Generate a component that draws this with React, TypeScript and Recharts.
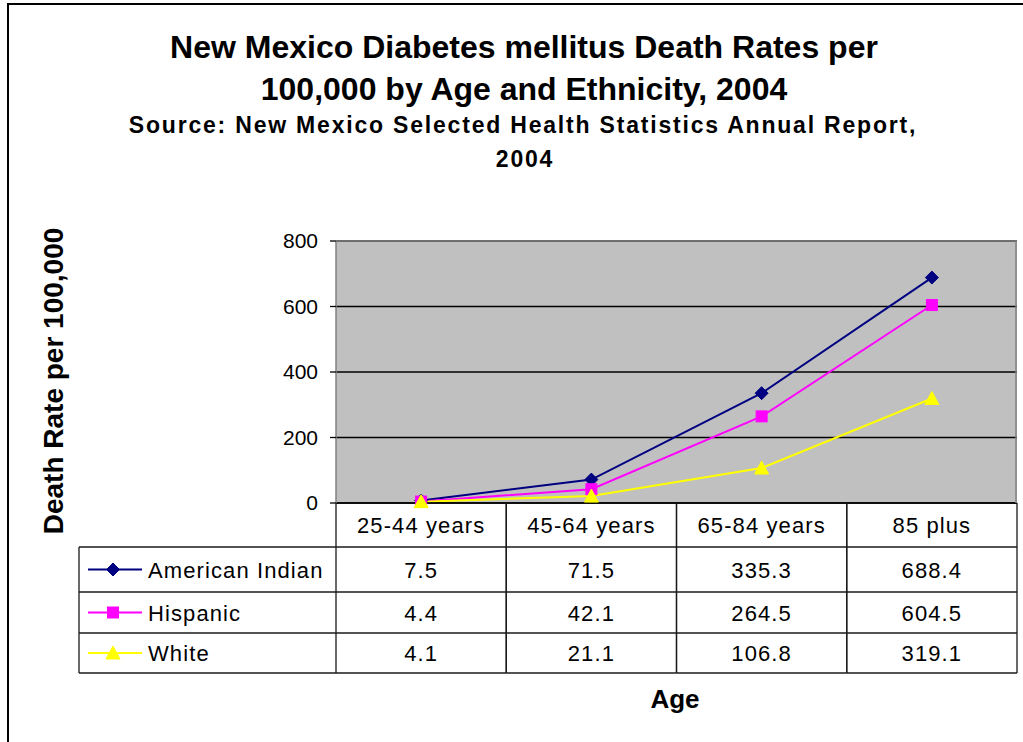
import React from "react";
import {
  LineChart,
  Line,
  XAxis,
  YAxis,
  CartesianGrid,
  ReferenceLine,
} from "recharts";

// Age groups and death rates per 100,000 (New Mexico, 2004)
const ageGroups = ["25-44 years", "45-64 years", "65-84 years", "85 plus"];
const americanIndian = [7.5, 71.5, 335.3, 688.4];
const hispanic = [4.4, 42.1, 264.5, 604.5];
const white = [4.1, 21.1, 106.8, 319.1];
const yTicks = [0, 200, 400, 600, 800];

const seriesInfo = [
  { key: "americanIndian", name: "American Indian", color: "#000080", shape: "diamond", values: americanIndian },
  { key: "hispanic", name: "Hispanic", color: "#FF00FF", shape: "square", values: hispanic },
  { key: "white", name: "White", color: "#FFFF00", shape: "triangle", values: white },
];

const data = ageGroups.map((age, i) => {
  const row: Record<string, string | number> = { age };
  seriesInfo.forEach((s) => {
    row[s.key] = s.values[i];
  });
  return row;
});

// Layout
const CHART_W = 1023;
const CHART_H = 742;
const MARGIN = { top: 241, right: 6, bottom: 69, left: 0 };
const Y_AXIS_W = 336;
const HEADER_H = 44;
const ROW_H = [45, 41, 40];
const TABLE_H = HEADER_H + ROW_H.reduce((a, b) => a + b, 0);
const PLOT_W = CHART_W - MARGIN.left - MARGIN.right - Y_AXIS_W;
const PLOT_H = CHART_H - MARGIN.top - MARGIN.bottom - TABLE_H;
const TABLE_LEFT = 79;
const FONT = "'Liberation Sans', Arial, Helvetica, sans-serif";
const GRID_COLOR = "#000000";
const TABLE_LINE = "#1a1a1a";

function Marker({ shape, cx, cy, color }: { shape: string; cx: number; cy: number; color: string }) {
  if (shape === "diamond") {
    const r = 6.5;
    return <path d={`M${cx},${cy - r}L${cx + r},${cy}L${cx},${cy + r}L${cx - r},${cy}Z`} fill={color} stroke={color} strokeWidth={1} />;
  }
  if (shape === "square") {
    const r = 5.5;
    return <rect x={cx - r} y={cy - r} width={2 * r} height={2 * r} fill={color} stroke={color} strokeWidth={1} />;
  }
  const h = 12;
  const w = 7;
  return <path d={`M${cx},${cy - h / 2 - 1}L${cx + w},${cy + h / 2}L${cx - w},${cy + h / 2}Z`} fill={color} stroke={color} strokeWidth={1} />;
}

function makeDot(shape: string, color: string) {
  return (props: any) => {
    const { cx, cy, index } = props;
    if (cx == null || cy == null) return <g key={`${shape}-${index}`} />;
    return (
      <g key={`${shape}-${index}`}>
        <Marker shape={shape} cx={cx} cy={cy} color={color} />
      </g>
    );
  };
}

const cellText = {
  fontFamily: FONT,
  fontSize: 22,
  letterSpacing: 1.1,
  fill: "#000",
} as const;

// Each x-axis tick draws one column of the data table; the first also draws the legend column.
function TableTick(props: any) {
  const { x, y, payload } = props;
  const i: number = payload.index;
  const colW = PLOT_W / ageGroups.length;
  const left = x - colW / 2;
  const right = x + colW / 2;
  const rowTops: number[] = [];
  let acc = y + HEADER_H;
  ROW_H.forEach((h) => {
    rowTops.push(acc);
    acc += h;
  });
  const bottom = y + TABLE_H;

  return (
    <g>
      <text x={x} y={y + HEADER_H / 2 + 8} textAnchor="middle" {...cellText}>
        {payload.value}
      </text>
      {seriesInfo.map((s, r) => (
        <text key={s.key} x={x} y={rowTops[r] + ROW_H[r] / 2 + 8} textAnchor="middle" {...cellText}>
          {s.values[i]}
        </text>
      ))}
      {rowTops.map((t, r) => (
        <line key={`h${r}`} x1={left} x2={right} y1={t} y2={t} stroke={TABLE_LINE} strokeWidth={1.3} />
      ))}
      <line x1={left} x2={right} y1={bottom} y2={bottom} stroke={TABLE_LINE} strokeWidth={1.3} />
      <line x1={left} x2={left} y1={y} y2={bottom} stroke={TABLE_LINE} strokeWidth={1.3} />
      <line x1={right} x2={right} y1={y} y2={bottom} stroke={TABLE_LINE} strokeWidth={1.3} />
      {i === ageGroups.length - 1 && (
        <line x1={right - 1} x2={right - 1} y1={y - PLOT_H} y2={y} stroke="#808080" strokeWidth={1.5} />
      )}
      {i === 0 && (
        <g>
          <line x1={TABLE_LEFT} x2={TABLE_LEFT} y1={rowTops[0]} y2={bottom} stroke={TABLE_LINE} strokeWidth={1.3} />
          {rowTops.map((t, r) => (
            <line key={`lh${r}`} x1={TABLE_LEFT} x2={left} y1={t} y2={t} stroke={TABLE_LINE} strokeWidth={1.3} />
          ))}
          <line x1={TABLE_LEFT} x2={left} y1={bottom} y2={bottom} stroke={TABLE_LINE} strokeWidth={1.3} />
          {seriesInfo.map((s, r) => {
            const cy = rowTops[r] + ROW_H[r] / 2;
            return (
              <g key={`lg${s.key}`}>
                <line x1={TABLE_LEFT + 9} x2={TABLE_LEFT + 63} y1={cy} y2={cy} stroke={s.color} strokeWidth={2} />
                <Marker shape={s.shape} cx={TABLE_LEFT + 34} cy={cy} color={s.color} />
                <text x={TABLE_LEFT + 69} y={cy + 8} textAnchor="start" {...cellText}>
                  {s.name}
                </text>
              </g>
            );
          })}
        </g>
      )}
    </g>
  );
}

export default function App() {
  return (
    <div style={{ position: "absolute", left: 0, top: 0, width: CHART_W, height: CHART_H, background: "#fff", overflow: "hidden" }}>
      {/* chart frame: only the top and left edges fall inside the view */}
      <div
        style={{
          position: "absolute",
          left: 7,
          top: 3,
          width: CHART_W + 20,
          height: CHART_H + 20,
          borderTop: "2px solid #000",
          borderLeft: "2px solid #000",
          boxSizing: "border-box",
        }}
      />
      <div style={{ position: "absolute", left: 0, top: 0 }}>
        <LineChart width={CHART_W} height={CHART_H} data={data} margin={MARGIN}>
          <CartesianGrid vertical={false} stroke={GRID_COLOR} strokeWidth={1.3} fill="#C0C0C0" fillOpacity={1} />
          <ReferenceLine y={800} stroke="#808080" strokeWidth={1.5} />
          <XAxis
            dataKey="age"
            scale="band"
            interval={0}
            height={TABLE_H}
            tickLine={false}
            tickSize={0}
            tickMargin={0}
            axisLine={{ stroke: "#000", strokeWidth: 1.5 }}
            tick={<TableTick />}
          />
          <YAxis
            domain={[0, 800]}
            ticks={yTicks}
            width={Y_AXIS_W}
            tickSize={6}
            tickMargin={12}
            axisLine={{ stroke: "#808080", strokeWidth: 1.5 }}
            tickLine={{ stroke: "#000", strokeWidth: 1.3 }}
            tick={{ fill: "#000", fontSize: 21, fontFamily: FONT }}
          />
          {seriesInfo.map((s) => (
            <Line
              key={s.key}
              dataKey={s.key}
              name={s.name}
              stroke={s.color}
              strokeWidth={2}
              dot={makeDot(s.shape, s.color)}
              activeDot={false}
              isAnimationActive={false}
            />
          ))}
        </LineChart>
      </div>
      <svg
        width={CHART_W}
        height={CHART_H}
        style={{ position: "absolute", left: 0, top: 0, pointerEvents: "none" }}
      >
        <g fontFamily={FONT} fontWeight="bold" fill="#000" textAnchor="middle">
          <text x={524} y={58} fontSize={32}>
            New Mexico Diabetes mellitus Death Rates per
          </text>
          <text x={524} y={100} fontSize={32}>
            100,000 by Age and Ethnicity, 2004
          </text>
          <text x={523} y={133} fontSize={23} letterSpacing={1.8}>
            Source: New Mexico Selected Health Statistics Annual Report,
          </text>
          <text x={525} y={167} fontSize={23} letterSpacing={1.8}>
            2004
          </text>
          <text x={675} y={708} fontSize={26}>
            Age
          </text>
          <text x={0} y={0} fontSize={28} transform={`translate(63, 381) rotate(-90)`}>
            Death Rate per 100,000
          </text>
        </g>
      </svg>
    </div>
  );
}
